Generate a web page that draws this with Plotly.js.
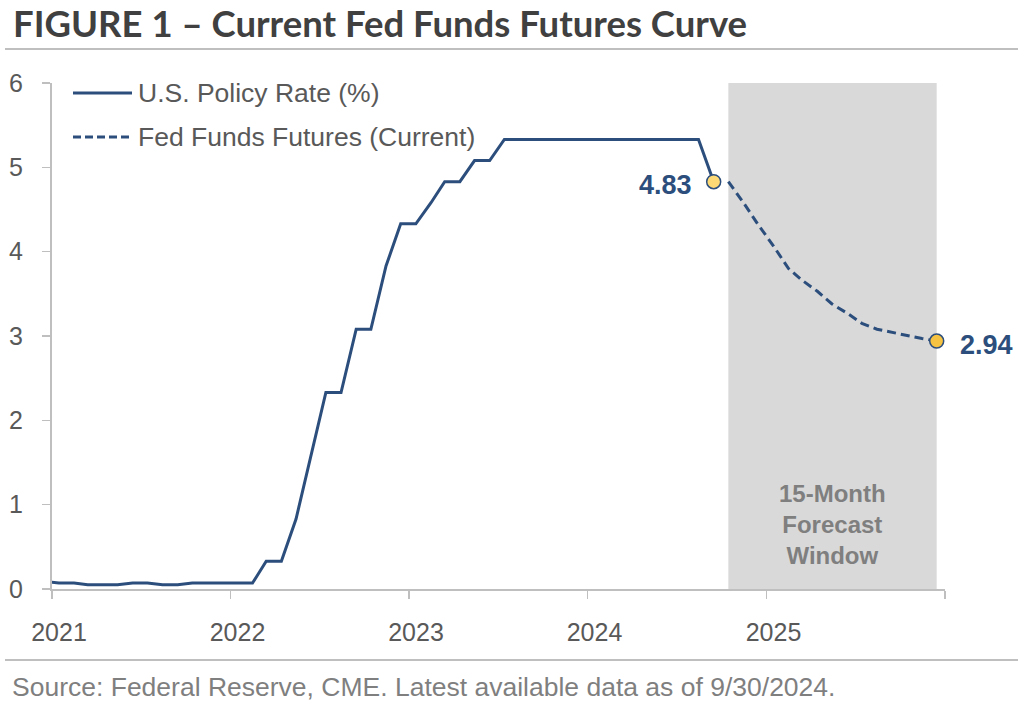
<!DOCTYPE html>
<html><head><meta charset="utf-8">
<script src="https://cdn.plot.ly/plotly-3.0.1.min.js"></script>
<style>html,body{margin:0;padding:0;background:#fff;} #chart{width:1018px;height:710px;}</style>
</head><body><div id="chart"></div>
<script>
// ---- data ----
const policyMonths = ['2020-12',
  '2021-01','2021-02','2021-03','2021-04','2021-05','2021-06','2021-07','2021-08','2021-09','2021-10','2021-11','2021-12',
  '2022-01','2022-02','2022-03','2022-04','2022-05','2022-06','2022-07','2022-08','2022-09','2022-10','2022-11','2022-12',
  '2023-01','2023-02','2023-03','2023-04','2023-05','2023-06','2023-07','2023-08','2023-09','2023-10','2023-11','2023-12',
  '2024-01','2024-02','2024-03','2024-04','2024-05','2024-06','2024-07','2024-08','2024-09'];
const policyRate = [0.09,
  0.07,0.07,0.05,0.05,0.05,0.07,0.07,0.05,0.05,0.07,0.07,0.07,
  0.07,0.07,0.33,0.33,0.83,1.58,2.33,2.33,3.08,3.08,3.83,4.33,
  4.33,4.58,4.83,4.83,5.08,5.08,5.33,5.33,5.33,5.33,5.33,5.33,
  5.33,5.33,5.33,5.33,5.33,5.33,5.33,5.33,4.83];
const futuresMonths = ['2024-10','2024-11','2024-12','2025-01','2025-02','2025-03','2025-04','2025-05',
  '2025-06','2025-07','2025-08','2025-09','2025-10','2025-11','2025-12'];
const futuresRate = [4.83,4.58,4.32,4.07,3.80,3.66,3.53,3.38,3.27,3.15,3.08,3.04,3.01,2.97,2.94];
const yearTicks = ['2021','2022','2023','2024','2025','2026'];
const yearLabels = ['2021','2022','2023','2024','2025',''];
const seriesNames = ['U.S. Policy Rate (%)','Fed Funds Futures (Current)'];
const windowLabel = '15-Month<br>Forecast<br>Window';
const titleText = 'FIGURE 1 – Current Fed Funds Futures Curve';
const sourceText = 'Source: Federal Reserve, CME. Latest available data as of 9/30/2024.';

// ---- helpers ----
const mid = m => m + '-15';
const px = policyMonths.map(mid);
const fx = futuresMonths.map(mid);
const lastP = px.length - 1, lastF = fx.length - 1;
const shadeMid = new Date((new Date(fx[0]).getTime() + new Date(fx[lastF]).getTime()) / 2).toISOString().slice(0, 10);

const BLUE = '#2C4E7C';
const GRAY_TXT = '#595959';
const AXIS = '#BFBFBF';
const FONT = 'Liberation Sans, Arial, sans-serif';

const traces = [
  {x: px, y: policyRate, type: 'scatter', mode: 'lines', name: seriesNames[0],
   line: {color: BLUE, width: 3}, hoverinfo: 'skip'},
  {x: fx, y: futuresRate, type: 'scatter', mode: 'lines', name: seriesNames[1],
   line: {color: BLUE, width: 3, dash: '9px,5px'}, hoverinfo: 'skip'},
  {x: [px[lastP], fx[lastF]], y: [policyRate[lastP], futuresRate[lastF]], type: 'scatter', mode: 'markers',
   marker: {size: 14, color: ['#FCD975', '#F5C242'], line: {color: BLUE, width: 1.5}}, cliponaxis: false, hoverinfo: 'skip'}
];

// paper-coordinate helpers for the custom legend (plot area: 893 x 506)
const W = 893, H = 506, L = 52, T = 83;
const pxX = v => (v - L) / W;
const pxY = v => (T + H - v) / H;

const layout = {
  width: 1018, height: 710,
  margin: {l: L, r: 1018 - L - W, t: T, b: 710 - T - H},
  paper_bgcolor: '#fff', plot_bgcolor: '#fff',
  showlegend: false,
  title: {text: titleText, x: 13/1018, xanchor: 'left', xref: 'container', yref: 'container',
          y: 1 - 24/710, yanchor: 'middle',
          font: {family: 'Lato, sans-serif', size: 36.5, weight: 'bold', color: '#404040'}},
  xaxis: {type: 'date', range: ['2021-01-01', '2026-01-01'], tickmode: 'array',
          tickvals: yearTicks.map(y => y + '-01-01'), ticktext: yearLabels,
          ticks: 'outside', ticklen: 8, tickcolor: AXIS, tickwidth: 1.5,
          showline: true, linecolor: AXIS, linewidth: 2, showgrid: false, zeroline: false,
          ticklabelshift: 7, ticklabelstandoff: 12,
          tickfont: {family: FONT, size: 25, color: GRAY_TXT}},
  yaxis: {range: [0, 6], dtick: 1, tick0: 0, ticks: 'outside', ticklen: 8, tickcolor: AXIS, tickwidth: 1.5,
          showline: true, linecolor: AXIS, linewidth: 2, showgrid: false, zeroline: false,
          ticklabelstandoff: 14,
          tickfont: {family: FONT, size: 25, color: GRAY_TXT}},
  shapes: [
    {type: 'rect', xref: 'x', yref: 'y', x0: fx[0], x1: fx[lastF], y0: 0, y1: 6,
     fillcolor: '#D9D9D9', line: {width: 0}, layer: 'below'},
    // title rule and footer rule
    {type: 'line', xref: 'paper', yref: 'paper', x0: pxX(5), x1: pxX(1018), y0: pxY(49), y1: pxY(49),
     line: {color: AXIS, width: 2}},
    {type: 'line', xref: 'paper', yref: 'paper', x0: pxX(5), x1: pxX(1018), y0: pxY(660), y1: pxY(660),
     line: {color: AXIS, width: 2}},
    // legend samples
    {type: 'line', xref: 'paper', yref: 'paper', x0: pxX(73), x1: pxX(132), y0: pxY(93), y1: pxY(93),
     line: {color: BLUE, width: 3}},
    {type: 'line', xref: 'paper', yref: 'paper', x0: pxX(73), x1: pxX(132), y0: pxY(137), y1: pxY(137),
     line: {color: BLUE, width: 3, dash: '8px,4px'}}
  ],
  annotations: [
    {xref: 'paper', yref: 'paper', x: pxX(136), y: pxY(93), xanchor: 'left', yanchor: 'middle',
     text: seriesNames[0], showarrow: false, font: {family: FONT, size: 26.5, color: GRAY_TXT}},
    {xref: 'paper', yref: 'paper', x: pxX(136), y: pxY(137), xanchor: 'left', yanchor: 'middle',
     text: seriesNames[1], showarrow: false, font: {family: FONT, size: 26.5, color: GRAY_TXT}},
    {xref: 'x', yref: 'y', x: px[lastP], y: policyRate[lastP], xanchor: 'right', yanchor: 'middle',
     xshift: -20, yshift: -3, text: policyRate[lastP].toFixed(2), showarrow: false,
     font: {family: FONT, size: 27, weight: 'bold', color: BLUE}},
    {xref: 'x', yref: 'y', x: fx[lastF], y: futuresRate[lastF], xanchor: 'left', yanchor: 'middle',
     xshift: 21, yshift: -4, text: futuresRate[lastF].toFixed(2), showarrow: false,
     font: {family: FONT, size: 27, weight: 'bold', color: BLUE}},
    {xref: 'x', yref: 'y', x: shadeMid, y: 0.76, xanchor: 'center', yanchor: 'middle',
     text: windowLabel, showarrow: false, align: 'center',
     font: {family: FONT, size: 24, weight: 'bold', color: '#7F7F7F'}},
    {xref: 'paper', yref: 'paper', x: pxX(10), y: pxY(687), xanchor: 'left', yanchor: 'middle',
     text: sourceText, showarrow: false, font: {family: FONT, size: 26.5, color: '#7F7F7F'}}
  ]
};

Plotly.newPlot('chart', traces, layout, {displayModeBar: false, staticPlot: true});
</script>
</body></html>
